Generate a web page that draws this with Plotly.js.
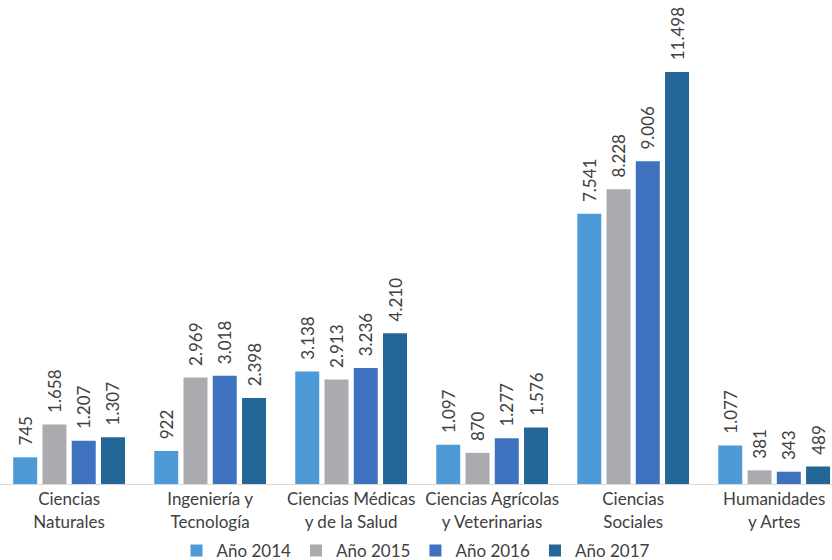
<!DOCTYPE html>
<html><head><meta charset="utf-8">
<script src="https://cdn.plot.ly/plotly-3.0.1.min.js"></script>
<style>body{margin:0;background:#fff}#chart{width:832px;height:560px}</style>
</head><body><div id="chart"></div>
<script>
const categories = ["Ciencias<br>Naturales","Ingeniería y<br>Tecnología","Ciencias Médicas<br>y de la Salud","Ciencias Agrícolas<br>y Veterinarias","Ciencias<br>Sociales","Humanidades<br>y Artes"];
const seriesNames = ["Año 2014","Año 2015","Año 2016","Año 2017"];
const y2014 = [745, 922, 3138, 1097, 7541, 1077];
const y2015 = [1658, 2969, 2913, 870, 8228, 381];
const y2016 = [1207, 3018, 3236, 1277, 9006, 343];
const y2017 = [1307, 2398, 4210, 1576, 11498, 489];
const colors = ["#4E9AD6","#A9ABAE","#3F72BE","#246698"];
const values = [y2014, y2015, y2016, y2017];
const traces = values.map((v,i)=>({
  type:'bar', x:categories, y:v, name:seriesNames[i],
  marker:{color:colors[i]},
  texttemplate:'\u00a0\u00a0%{y:,}', textposition:'outside', textangle:-90,
  constraintext:'none',
  textfont:{family:'Lato, "Open Sans", sans-serif', size:17, color:'#404040'},
  cliponaxis:false
}));
const layout = {
  width:832, height:560,
  margin:{l:0, r:0, t:36, b:76, autoexpand:false},
  barmode:'group', bargap:0.17, bargroupgap:0.18,
  separators:',.',
  paper_bgcolor:'#fff', plot_bgcolor:'#fff',
  font:{family:'Lato, "Open Sans", sans-serif', color:'#404040', size:16},
  xaxis:{type:'category', range:[-0.49, 5.41], showline:true, linecolor:'#D9D9D9', linewidth:1,
         ticks:'', ticklabelstandoff:0, tickfont:{size:17, color:'#404040'}, showgrid:false, automargin:false},
  yaxis:{range:[0,12503], visible:false, showgrid:false, zeroline:false},
  showlegend:true,
  legend:{orientation:'h', x:0.5, xanchor:'center', yref:'container', y:0.016, yanchor:'middle',
          bgcolor:'rgba(0,0,0,0)', font:{size:17, color:'#404040'}, traceorder:'normal', itemwidth:30},
};
Plotly.newPlot('chart', traces, layout, {displayModeBar:false, staticPlot:true});
</script></body></html>
